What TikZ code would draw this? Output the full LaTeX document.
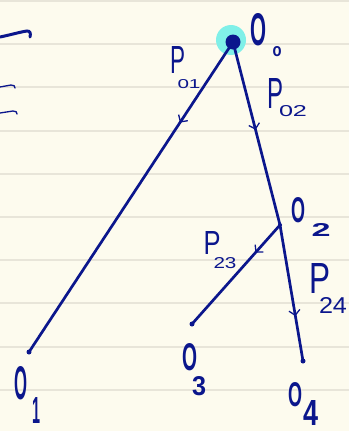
\documentclass[tikz,border=0pt]{standalone}
\usepackage{fontspec}
\setsansfont{Liberation Sans}
\usetikzlibrary{arrows.meta,decorations.markings}
\definecolor{ink}{HTML}{0B168C}
\definecolor{paper}{HTML}{FDFBEE}
\definecolor{rulec}{HTML}{E8E5D9}
\definecolor{halo}{HTML}{80F0E8}
\newcommand\fitt[3]{\resizebox{#1pt}{#2pt}{#3}}
\begin{document}
\begin{tikzpicture}[x=1pt,y=-1pt,
  edge/.style={ink, line width=2.7pt, line cap=round, postaction=decorate,
    decoration={markings, mark=at position #1 with {\arrow{Straight Barb[line width=1.3pt,length=5pt,width=11pt]}}}},
  enddot/.style={circle, fill=ink, inner sep=0pt, minimum size=5pt},
  bigo/.style={ink, inner sep=0pt, font=\sffamily\bfseries},
  bigp/.style={ink, inner sep=0pt, font=\sffamily},
  subs/.style={ink, inner sep=0pt, font=\sffamily\bfseries},
  psubs/.style={ink, inner sep=0pt, font=\sffamily},
  rl/.style={rulec, line width=1.2pt}]
\fill[paper] (0,0) rectangle (349,431);
\useasboundingbox (0,0) rectangle (349,431);
% ruling
\foreach \yy in {1,44,87,131,174,217,260,303,347,390}
  \draw[rl] (0,\yy) -- (349,\yy);
% left scribbles
\draw[ink, line width=3pt, line cap=round] (0,37) .. controls (10,35) and (20,32) .. (27,31) .. controls (30,31) and (31,33) .. (30,37);
\draw[ink, line width=1.3pt, line cap=round] (0,87) -- (11,85) .. controls (14,85) and (15,86) .. (15,88);
\draw[ink, line width=1.3pt, line cap=round] (0,113) -- (13,111) .. controls (16,111) and (17,112) .. (17,114);
% halo and nodes
\fill[halo] (231,40) circle (15);
\node[circle, fill=ink, inner sep=0pt, minimum size=15pt] (n0) at (233,42) {};
\node[enddot] (n1) at (29,352) {};
\node[enddot, minimum size=4pt] (n2) at (280,225) {};
\node[enddot] (n3) at (192,324) {};
\node[enddot] (n4) at (303,361) {};
% edges
\draw[edge=0.26] (n0.center) -- (n1.center);
\draw[edge=0.48] (n0.center) -- (n2.center);
\draw[edge=0.28] (n2.center) -- (n3.center);
\draw[edge=0.67] (n2.center) -- (n4.center);
% vertex labels
\node[bigo] (l0) at (258,30) {\fitt{16}{32}{O}};
\node[subs] (l0s) at (277,52) {\fitt{9}{10}{o}};
\node[bigo] (l1) at (21,383) {\fitt{13}{33}{O}};
\node[subs] (l1s) at (37,410) {\fitt{8}{26}{1}};
\node[bigo] (l2) at (298,210) {\fitt{14}{25}{O}};
\node[subs] (l2s) at (321,230) {\fitt{19}{13}{2}};
\node[bigo] (l3) at (190,357) {\fitt{15}{27}{O}};
\node[subs] (l3s) at (199,386) {\fitt{14}{19}{3}};
\node[bigo] (l4) at (295,395) {\fitt{14}{24}{O}};
\node[subs] (l4s) at (311,413) {\fitt{15}{25}{4}};
% edge labels
\node[bigp] (p01) at (178,60) {\fitt{15}{27}{P}};
\node[psubs] (p01s) at (189,84) {\fitt{23}{9}{01}};
\node[bigp] (p02) at (275,93) {\fitt{16}{30}{P}};
\node[psubs] (p02s) at (293,111) {\fitt{28}{11}{02}};
\node[bigp] (p23) at (212,243) {\fitt{17}{23}{P}};
\node[psubs] (p23s) at (225,263) {\fitt{23}{11}{23}};
\node[bigp] (p24) at (320,278) {\fitt{21}{30}{P}};
\node[psubs] (p24s) at (333,305) {\fitt{28}{16}{24}};
\end{tikzpicture}
\end{document}
